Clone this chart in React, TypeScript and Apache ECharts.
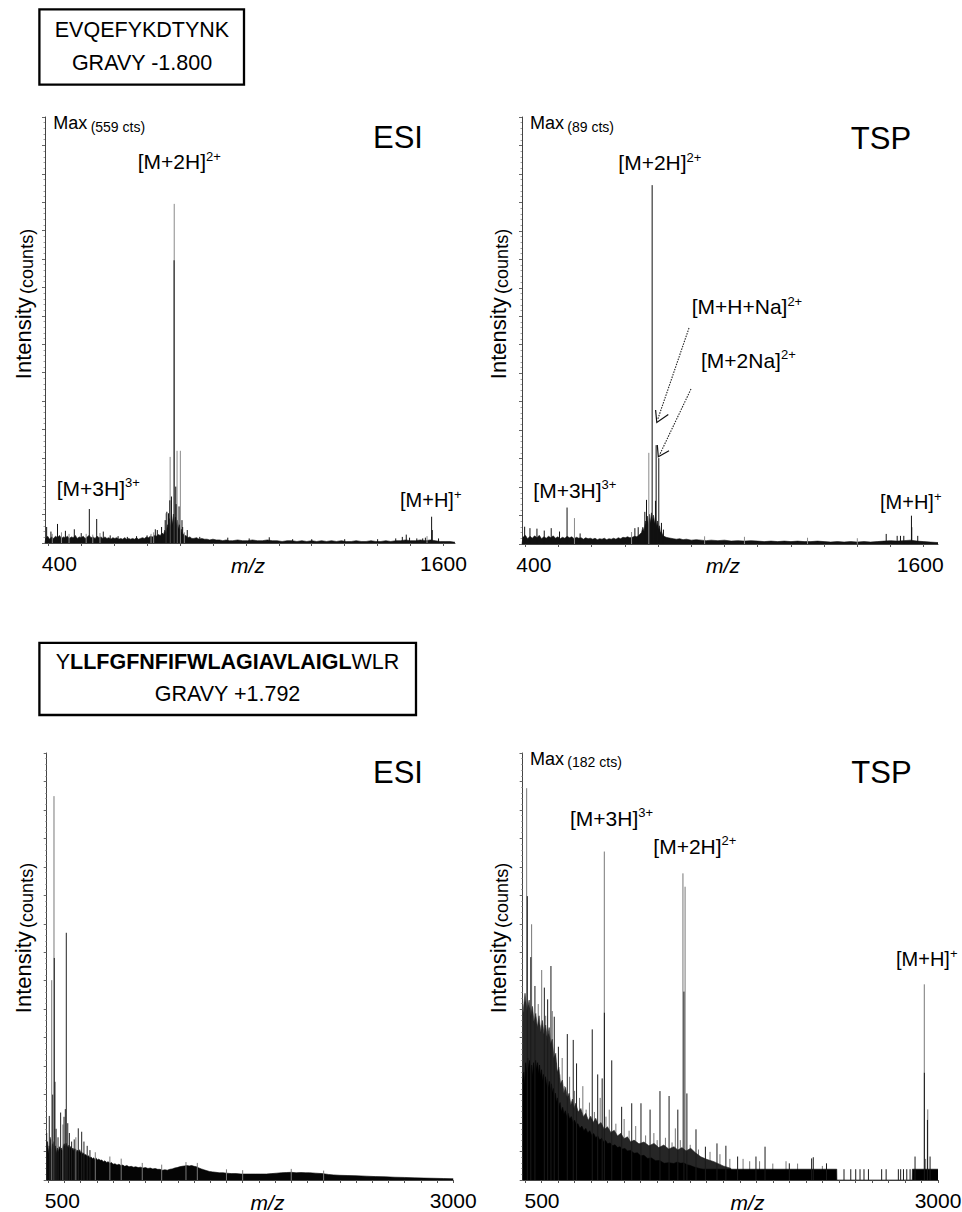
import React, { useEffect, useRef } from "react";
import * as echarts from "echarts";

const FONT = '"Liberation Sans", Arial, Helvetica, sans-serif';

// ---------------- DATA ----------------
const TOP_X_TICKS = [400, 500, 600, 700, 800, 900, 1000, 1100, 1200, 1300, 1400, 1500, 1600];
const TOP_X_LABELS = [400, 1600];
const BOTTOM_X_TICKS = [500, 600, 700, 800, 900, 1000, 1100, 1200, 1300, 1400, 1500, 1600, 1700, 1800, 1900, 2000, 2100, 2200, 2300, 2400, 2500, 2600, 2700, 2800, 2900, 3000];
const BOTTOM_X_LABELS = [500, 3000];

// Max counts of each panel (ESI bottom panel has no printed max: relative scale)
const PANEL_MAX = [559, 89, 100, 182];
const PANEL_TITLES = ["ESI", "TSP", "ESI", "TSP"];
const MAX_LABELS = ["(559 cts)", "(89 cts)", "", "(182 cts)"];

// Panel 1: EVQEFYKDTYNK, ESI  [m/z, counts]
const ESI_TOP_DARK = [
  [395, 21], [408, 15], [428, 25], [452, 16], [479, 18], [500, 13], [524.6, 44.6], [547, 31.5], [567, 15],
  [588, 10], [612, 9], [640, 8], [668, 9], [700, 10], [725, 18], [731, 17], [744, 21], [755, 30], [760, 41],
  [765, 39], [769, 56], [774, 61], [782, 371], [787, 74], [788, 51], [797, 48], [806, 30], [808, 21], [822, 17],
  [860, 8], [945, 7], [1010, 6], [1071, 7.5], [1142, 5], [1200, 5], [1300, 5], [1400, 5], [1455, 6], [1475, 8],
  [1487, 11], [1497, 7], [1519, 6], [1537, 6], [1545, 7], [1564, 34.5], [1566, 17], [1585, 6],
];
const ESI_TOP_GREY = [
  [412, 12], [440, 14], [463, 12], [515, 12], [535, 11], [557, 13], [712, 12], [720, 14], [757.5, 39],
  [770, 113], [782.4, 445], [791, 121], [801, 121], [813, 14], [1550, 9],
];
const ESI_TOP_NOISE = [
  [390, 0], [392, 6], [398, 9], [404, 5], [410, 8], [416, 6], [422, 9], [428, 7], [434, 10], [440, 6], [446, 8],
  [452, 7], [458, 9], [464, 6], [470, 8], [476, 7], [482, 10], [488, 6], [494, 8], [500, 7], [506, 9], [512, 6],
  [518, 8], [524, 10], [530, 7], [536, 8], [542, 6], [548, 9], [554, 7], [560, 8], [566, 6], [572, 8], [578, 6],
  [584, 7], [590, 5], [596, 7], [602, 6], [608, 7], [614, 5], [620, 6], [626, 5], [632, 7], [638, 5], [644, 6],
  [650, 5], [656, 6], [662, 5], [668, 7], [674, 5], [680, 6], [686, 7], [692, 6], [698, 8], [704, 7], [710, 9],
  [716, 8], [722, 10], [728, 9], [734, 11], [740, 10], [746, 13], [750, 11], [754, 17], [758, 13], [762, 24],
  [765, 16], [768, 32], [771, 20], [774, 36], [777, 24], [780, 38], [783, 26], [786, 34], [789, 22], [792, 30],
  [795, 18], [798, 24], [801, 15], [804, 18], [807, 11], [810, 12], [814, 9], [818, 10], [824, 7], [830, 8],
  [836, 6], [842, 6], [850, 7], [858, 5], [866, 6], [874, 5],
  [882, 5], [890, 4], [900, 5], [910, 4], [920, 4], [930, 3], [940, 4], [950, 3], [960, 3], [975, 4], [990, 3],
  [1005, 3], [1020, 4], [1035, 3], [1050, 3], [1065, 4], [1080, 3], [1095, 3], [1110, 2], [1125, 3], [1140, 3],
  [1155, 2], [1170, 3], [1185, 2], [1200, 3], [1215, 2], [1230, 3], [1245, 2], [1260, 3], [1275, 2], [1290, 3],
  [1305, 2], [1320, 2], [1335, 3], [1350, 2], [1365, 2], [1380, 3], [1395, 2], [1410, 2], [1425, 3], [1440, 2],
  [1455, 3], [1470, 3], [1485, 4], [1500, 3], [1515, 3], [1530, 4], [1545, 3], [1560, 4], [1575, 3], [1590, 2],
  [1605, 2], [1620, 2], [1635, 1],
];

// Panel 2: EVQEFYKDTYNK, TSP  [m/z, counts]
const TSP_TOP_DARK = [
  [398, 3.6], [414, 3.3], [435, 3.2], [457, 2.8], [478, 3.3], [503, 2.6], [525.7, 7.6], [565, 2.2], [730, 3.3],
  [740, 3.5], [760, 6.7], [765, 9.2], [782, 74.8], [792, 9], [794, 20.6], [802, 17.9], [810, 4.4], [816, 3],
  [1487, 2.1], [1520, 1.7], [1530, 1.7], [1540, 1.7], [1563, 5.9], [1564, 3.5], [1582, 1.7],
];
const TSP_TOP_GREY = [
  [548, 5.4], [772, 19], [720, 2.5], [940, 1.6], [1060, 1.5], [1250, 1.3], [1400, 1.2],
];
const TSP_TOP_NOISE = [
  [390, 0], [393, 1.4], [400, 1.8], [407, 1.1], [414, 1.6], [421, 1.2], [428, 1.7], [435, 1.3], [442, 1.8],
  [449, 1.1], [456, 1.5], [463, 1.2], [470, 1.6], [477, 1.3], [484, 1.7], [491, 1.2], [498, 1.5], [505, 1.1],
  [512, 1.4], [519, 1.2], [526, 1.6], [533, 1.3], [540, 1.5], [547, 1.1], [554, 1.4], [561, 1.2], [568, 1.3],
  [575, 1.0], [582, 1.3], [589, 1.1], [596, 1.2], [603, 1.0], [610, 1.2], [617, 0.9], [624, 1.1], [631, 1.0],
  [638, 1.2], [645, 0.9], [652, 1.1], [659, 1.0], [666, 1.2], [673, 1.0], [680, 1.3], [687, 1.1], [694, 1.4],
  [701, 1.3], [708, 1.5], [715, 1.3], [722, 1.4], [729, 1.6], [736, 1.5], [743, 1.9], [750, 2.4], [754, 3.5],
  [758, 2.6], [762, 4.8], [765, 3.2], [768, 5.8], [771, 3.8], [774, 6.2], [777, 4.4], [780, 6.5], [783, 4.6],
  [786, 6.0], [789, 4.2], [792, 5.6], [795, 3.6], [798, 4.8], [801, 3.0], [804, 3.8], [807, 2.4], [810, 2.6],
  [814, 1.8], [818, 1.6], [824, 1.4], [830, 1.3], [838, 1.2], [846, 1.1], [855, 1.0], [865, 1.1],
  [875, 0.9], [885, 1.0], [900, 0.8], [915, 0.9], [930, 0.8], [945, 0.7], [960, 0.8], [980, 0.7], [1000, 0.8],
  [1020, 0.6], [1040, 0.7], [1060, 0.6], [1080, 0.7], [1100, 0.6], [1120, 0.5], [1140, 0.6], [1160, 0.5],
  [1180, 0.6], [1200, 0.5], [1220, 0.6], [1240, 0.5], [1260, 0.5], [1280, 0.6], [1300, 0.5], [1320, 0.4],
  [1340, 0.5], [1360, 0.4], [1380, 0.5], [1400, 0.4], [1420, 0.5], [1440, 0.4], [1460, 0.5], [1480, 0.6],
  [1500, 0.7], [1520, 0.6], [1540, 0.7], [1560, 0.8], [1580, 0.6], [1600, 0.5], [1620, 0.4], [1643, 0.3],
];

// Panel 3: YLLFGFNFIFWLAGIAVLAIGLWLR, ESI  [m/z, relative]
const ESI_BOT_DARK = [
  [490, 11], [506, 15], [512, 10], [527, 20], [537, 52], [541, 23], [548, 12], [560, 10], [576, 15.8], [597, 14.8],
  [605, 16.6], [611, 57.9], [620, 13.3], [630, 11], [644, 9], [660, 9.5], [685, 12.1], [706, 11.3], [720, 9],
  [740, 8], [757, 7],
];
const ESI_BOT_GREY = [
  [521, 46.8], [535, 89.9], [590, 13], [670, 10], [790, 6.5], [880, 5.5], [950, 5], [1080, 4], [1200, 3.6],
  [1350, 4.2], [1420, 4], [1600, 2.5], [1700, 2.3], [2000, 2.6], [2200, 2.2],
];
const ESI_BOT_NOISE = [
  [490, 7.5], [495, 9], [500, 6.2], [505, 8], [510, 7], [515, 9.5], [520, 6.5], [525, 8.5], [530, 8], [535, 9],
  [540, 7], [545, 8], [550, 6.2], [556, 7.5], [562, 6.5], [568, 7.8], [574, 7], [580, 7.5], [586, 6.8], [592, 8],
  [598, 8.5], [604, 7.8], [610, 8.6], [616, 8], [622, 7.6], [628, 8.2], [634, 7.4], [640, 7.9], [646, 7.1],
  [652, 7.5], [658, 6.9], [664, 7.3], [670, 7.2], [676, 6.6], [682, 7], [688, 6.5], [694, 7.1], [700, 6.4],
  [706, 6.6], [712, 6.1], [718, 6.3], [725, 5.8], [732, 6], [740, 5.5], [748, 5.7], [756, 5.2], [764, 5.4],
  [772, 5], [780, 5.2], [788, 4.8], [796, 5.1], [804, 4.7], [812, 4.9], [820, 4.6], [830, 4.7], [840, 4.3],
  [850, 4.5], [860, 4.1], [870, 4.3], [880, 3.9], [890, 4.1], [900, 3.7], [912, 3.8], [924, 3.5], [936, 3.7],
  [948, 3.4], [960, 3.5], [972, 3.2], [985, 3.4], [998, 3.1], [1012, 3.2], [1026, 3], [1040, 3.1], [1055, 2.9],
  [1070, 3], [1085, 2.8], [1100, 2.9], [1115, 2.7], [1130, 2.8], [1145, 2.6], [1160, 2.7], [1175, 2.5],
  [1190, 2.5], [1205, 2.3], [1220, 2.4], [1235, 2.3], [1250, 2.5], [1265, 2.6], [1280, 2.8], [1295, 2.9],
  [1310, 3.1], [1325, 3.2], [1340, 3.3], [1355, 3.4], [1370, 3.3], [1385, 3.4], [1400, 3.2], [1415, 3.1],
  [1430, 2.8], [1445, 2.6], [1460, 2.4], [1476, 2.2], [1495, 2], [1515, 1.9], [1535, 1.8], [1555, 1.7],
  [1580, 1.7], [1600, 1.6], [1630, 1.5], [1660, 1.5], [1690, 1.4], [1720, 1.4], [1750, 1.4], [1780, 1.4],
  [1810, 1.4], [1846, 1.4], [1880, 1.5], [1910, 1.6], [1940, 1.7], [1970, 1.75], [2000, 1.8], [2030, 1.7],
  [2060, 1.75], [2090, 1.7], [2113, 1.7], [2150, 1.6], [2190, 1.5], [2230, 1.3], [2260, 1.2], [2300, 1.1],
  [2350, 1.05], [2400, 1], [2463, 0.9], [2520, 0.8], [2580, 0.75], [2640, 0.65], [2700, 0.6], [2760, 0.5],
  [2820, 0.45], [2880, 0.4], [2940, 0.35], [3000, 0.3],
];

// Panel 4: YLLFGFNFIFWLAGIAVLAIGLWLR, TSP  [m/z, counts]
const TSP_BOT_DARK = [
  [514, 121], [535, 95], [560, 82.7], [617, 82], [637, 77], [657, 91.2], [677, 69.6], [702, 56.8], [756, 62.2],
  [792, 59.7], [812, 49.7], [907, 64.2], [940, 45], [967, 43.3], [980.5, 71.3], [1025, 51], [1085, 31.2],
  [1146, 32.7], [1202, 32.7], [1257, 30], [1317, 37.9], [1372, 35.8], [1425, 30], [1462, 80.3], [1480, 36.9],
  [1535, 21.6], [1592, 14.2], [1662, 15.6], [1716, 14.6], [1787, 10], [1898, 10], [1953, 14.2], [2100, 7.1],
  [2235, 9.2], [2245, 9.7], [2325, 7.1], [2431, 4.6], [2472, 4.6], [2502, 4.6], [2528, 4.6], [2552, 4.6],
  [2579, 4.6], [2659, 4.6], [2686, 4.6], [2760, 4.6], [2774, 4.6], [2791, 4.6], [2811, 4.6], [2831, 4.6],
  [2861, 10], [2917.5, 45.7], [2936, 25.6], [2952, 10],
];
const TSP_BOT_GREY = [
  [510, 167], [540, 109], [601, 89.5], [980, 140], [1456, 130.7], [1469, 125], [2917, 83.4], [2938, 30.1],
  [2925, 9], [520, 62], [545, 70], [565, 60], [580, 75], [590, 66], [625, 70], [645, 60], [665, 72], [690, 50],
  [710, 45], [725, 52], [740, 40], [770, 44], [800, 38], [830, 35], [850, 40], [870, 30], [890, 33], [920, 29],
  [955, 35], [990, 27], [1010, 30], [1050, 24], [1100, 26], [1130, 21], [1170, 23], [1230, 19], [1280, 20],
  [1300, 17], [1350, 18], [1390, 16], [1410, 22], [1440, 17], [1500, 15], [1550, 13], [1620, 12], [1680, 11],
  [1740, 9], [1820, 9], [1860, 8], [1920, 8], [2000, 7], [2080, 8], [2150, 7], [2300, 6],
];
const TSP_BOT_GREY_AREA = [
  [486, 70], [500, 79.6], [512, 72], [525, 76.7], [535, 70], [545, 74], [555, 67], [565, 71], [575, 65],
  [585, 70], [595, 63], [605, 68], [615, 62], [625, 66], [635, 60], [646, 65], [655, 58], [665, 60], [675, 52],
  [686, 54], [695, 46], [705, 48], [715, 41], [726, 42.6], [736, 37], [746, 39.5], [756, 35], [767, 37],
  [777, 32], [787, 34.5], [797, 30.5], [807, 32.7], [822, 29], [838, 30.5], [853, 27], [868, 28.4], [883, 25.5],
  [898, 27.2], [913, 24.5], [928, 26.3], [944, 23.5], [960, 24.5], [980, 21.5], [999, 22.7], [1020, 20.2],
  [1040, 21.2], [1060, 18.8], [1080, 19.9], [1100, 17.6], [1120, 18.4], [1140, 16.2], [1160, 17], [1190, 15.4],
  [1220, 16.2], [1250, 14.6], [1281, 15.6], [1310, 13.8], [1340, 14.9], [1370, 13.2], [1402, 14.2],
  [1425, 12.8], [1450, 13.8], [1475, 12.4], [1503, 13.5], [1530, 11.7], [1564, 9.9], [1600, 8.8], [1644, 7.8],
  [1700, 6], [1745, 5], [1760, 0],
];
const TSP_BOT_DENSE = [
  [486, 42], [492, 46], [498, 40], [504, 50], [510, 45], [516, 52], [522, 47], [528, 51], [534, 45], [540, 49],
  [546, 44], [552, 50], [558, 46], [564, 51], [570, 47], [576, 50], [582, 45], [588, 49], [594, 44], [600, 47],
  [606, 42], [612, 45], [618, 41], [624, 44], [630, 40], [636, 43], [642, 39], [648, 42], [654, 38], [660, 41],
  [666, 37], [672, 39], [678, 35], [684, 37], [690, 33], [696, 35], [704, 31], [712, 33], [720, 29], [728, 31],
  [736, 28], [744, 29.5], [752, 27], [760, 28.5], [770, 26], [780, 27], [790, 24.5], [800, 25.5], [810, 23.5],
  [820, 24], [832, 22], [844, 23], [856, 21], [868, 22], [880, 20], [892, 21], [904, 19], [916, 19.8], [928, 18],
  [940, 18.8], [952, 17], [964, 17.8], [976, 16.2], [988, 16.8], [1000, 15.4], [1015, 15.8], [1030, 14.6],
  [1045, 15], [1060, 13.8], [1075, 14.2], [1090, 13.2], [1105, 13.4], [1120, 12.4], [1140, 12.6], [1160, 11.4],
  [1180, 11.6], [1200, 10.3], [1220, 10.5], [1241, 9.2], [1265, 9.4], [1290, 8.2], [1315, 8.3], [1342, 7.1],
  [1370, 7.4], [1400, 7], [1420, 7.6], [1443, 7.1], [1460, 7.3], [1480, 6.5], [1500, 6.2], [1520, 5.6],
  [1540, 5.2], [1560, 4.8], [1580, 4.6], [2387, 4.6], [2388, 0], [2844, 0], [2845, 4.6], [3000, 4.6],
];

// ---------------- LAYOUT (pixels) ----------------
const LAYOUT = [
  { left: 45, top: 117, width: 410, height: 426, xMin: 390, xMax: 1635, padFirst: 22, padLast: 0 },
  { left: 522, top: 117, width: 416, height: 427, xMin: 390, xMax: 1643, padFirst: 17, padLast: 7 },
  { left: 46.7, top: 753, width: 406.5, height: 427, xMin: 490, xMax: 3000, padFirst: 28, padLast: 0 },
  { left: 522.7, top: 753, width: 415.3, height: 427, xMin: 486, xMax: 3000, padFirst: 34, padLast: 0 },
];

function sticks(idx: number, data: number[][], color: string, width = 1, z = 4) {
  return {
    type: "custom",
    xAxisIndex: idx,
    yAxisIndex: idx,
    data,
    silent: true,
    z,
    renderItem: (_params: any, api: any) => {
      const top = api.coord([api.value(0), api.value(1)]);
      const base = api.coord([api.value(0), 0]);
      return {
        type: "line",
        shape: { x1: top[0], y1: base[1], x2: top[0], y2: top[1] },
        style: { stroke: color, lineWidth: width },
      };
    },
  };
}

function area(idx: number, data: number[][], color: string, z = 2) {
  return {
    type: "line",
    xAxisIndex: idx,
    yAxisIndex: idx,
    data,
    symbol: "none",
    showSymbol: false,
    silent: true,
    z,
    lineStyle: { color, width: 0.6 },
    areaStyle: { color, opacity: 1 },
  };
}

function text(x: number, y: number, t: string, rich: any, align = "left", rotation = 0) {
  return {
    type: "text",
    x,
    y,
    rotation,
    silent: true,
    z: 20,
    style: { text: t, rich, align, verticalAlign: "middle", fill: "#000", fontFamily: FONT },
  };
}

function ion(x: number, y: number, main: string, sup: string, size = 21) {
  return text(x, y, `{m|${main}}{s|${sup}}`, {
    m: { fontSize: size, fontFamily: FONT, lineHeight: 24, fill: "#000" },
    s: { fontSize: 13, fontFamily: FONT, lineHeight: 19.5, verticalAlign: "top", fill: "#000" },
  });
}

function intensityTitle(x: number, y: number) {
  return text(
    x,
    y,
    "{a|Intensity} {b|(counts)}",
    {
      a: { fontSize: 22, fontFamily: FONT, lineHeight: 26, fill: "#000" },
      b: { fontSize: 18, fontFamily: FONT, lineHeight: 23, verticalAlign: "bottom", fill: "#000" },
    },
    "center",
    Math.PI / 2
  );
}

function maxLabel(x: number, y: number, t: string) {
  return text(x, y, `{a|Max} {b|${t}}`, {
    a: { fontSize: 18, fontFamily: FONT, lineHeight: 21, fill: "#000" },
    b: { fontSize: 14, fontFamily: FONT, lineHeight: 18.5, verticalAlign: "bottom", fill: "#000" },
  });
}

function buildOption() {
  const ticks = [TOP_X_TICKS, TOP_X_TICKS, BOTTOM_X_TICKS, BOTTOM_X_TICKS];
  const labels = [TOP_X_LABELS, TOP_X_LABELS, BOTTOM_X_LABELS, BOTTOM_X_LABELS];

  const grid = LAYOUT.map((g) => ({
    left: g.left,
    top: g.top,
    width: g.width,
    height: g.height,
    containLabel: false,
    outerBoundsMode: "none",
  }));

  const xAxis = LAYOUT.map((g, i) => ({
    type: "value",
    gridIndex: i,
    min: g.xMin,
    max: g.xMax,
    axisLine: { show: true, lineStyle: { color: "#444", width: 1 } },
    axisTick: { show: true, customValues: ticks[i], length: 3, lineStyle: { color: "#555", width: 1 } },
    axisLabel: {
      show: true,
      customValues: labels[i],
      margin: 10,
      fontSize: 21,
      fontFamily: FONT,
      color: "#000",
      formatter: (v: number) => (v === labels[i][0] ? `{f|${v}}` : `{l|${v}}`),
      rich: {
        f: { fontSize: 21, fontFamily: FONT, color: "#000", padding: [0, 0, 0, g.padFirst] },
        l: { fontSize: 21, fontFamily: FONT, color: "#000", padding: [0, g.padLast, 0, 0] },
      },
    },
    splitLine: { show: false },
  }));

  const yAxis = LAYOUT.map((_g, i) => ({
    type: "value",
    gridIndex: i,
    min: 0,
    max: PANEL_MAX[i],
    interval: PANEL_MAX[i] / 15,
    axisLine: { show: true, lineStyle: { color: "#444", width: 1 } },
    axisTick: { show: true, length: 3, lineStyle: { color: "#666", width: 1 } },
    minorTick: { show: true, splitNumber: 5, length: 1.5, lineStyle: { color: "#888", width: 0.8 } },
    axisLabel: { show: false },
    splitLine: { show: false },
  }));

  const series: any[] = [
    area(0, ESI_TOP_NOISE, "#111"),
    sticks(0, ESI_TOP_GREY, "#8a8a8a"),
    sticks(0, ESI_TOP_DARK, "#111"),

    area(1, TSP_TOP_NOISE, "#111"),
    sticks(1, TSP_TOP_GREY, "#8a8a8a"),
    sticks(1, TSP_TOP_DARK, "#111"),

    area(2, ESI_BOT_NOISE, "#050505"),
    sticks(2, ESI_BOT_GREY, "#7a7a7a"),
    sticks(2, ESI_BOT_DARK, "#222"),

    sticks(3, TSP_BOT_GREY, "#777", 1, 0),
    area(3, TSP_BOT_GREY_AREA, "#262626", 1),
    area(3, TSP_BOT_DENSE, "#000", 3),
    sticks(3, TSP_BOT_DARK, "#1a1a1a"),
  ];

  const boxText = (x: number, y: number, t: string) =>
    text(x, y, t, {
      n: { fontSize: 21.5, fontFamily: FONT, lineHeight: 25, fill: "#000" },
      b: { fontSize: 21.5, fontFamily: FONT, fontWeight: "bold", lineHeight: 25, fill: "#000" },
    }, "center");

  const title = (x: number, y: number, t: string) =>
    text(x, y, `{t|${t}}`, { t: { fontSize: 31, fontFamily: FONT, lineHeight: 34, fill: "#000" } }, "center");

  const mz = (x: number, y: number) =>
    text(x, y, "{t|m/z}", { t: { fontSize: 21, fontFamily: FONT, fontStyle: "italic", lineHeight: 24, fill: "#000" } }, "center");

  const graphic: any[] = [
    // peptide boxes
    { type: "rect", silent: true, shape: { x: 39.4, y: 9.4, width: 204.6, height: 75.2 }, style: { fill: "none", stroke: "#000", lineWidth: 2.3 } },
    boxText(142, 29.5, "{n|EVQEFYKDTYNK}"),
    boxText(142, 62.8, "{n|GRAVY -1.800}"),
    { type: "rect", silent: true, shape: { x: 39.4, y: 642.8, width: 376.6, height: 72.2 }, style: { fill: "none", stroke: "#000", lineWidth: 2.3 } },
    boxText(227.5, 662, "{n|Y}{b|LLFGFNFIFWLAGIAVLAIGL}{n|WLR}"),
    boxText(227.5, 693.5, "{n|GRAVY +1.792}"),

    // panel titles
    title(398, 137.5, PANEL_TITLES[0]),
    title(881, 138, PANEL_TITLES[1]),
    title(398, 772, PANEL_TITLES[2]),
    title(881.5, 772, PANEL_TITLES[3]),

    // max labels
    maxLabel(53.3, 123, MAX_LABELS[0]),
    maxLabel(530, 123, MAX_LABELS[1]),
    maxLabel(530, 758.5, MAX_LABELS[3]),

    // y titles
    intensityTitle(23, 304),
    intensityTitle(498, 304),
    intensityTitle(23, 938),
    intensityTitle(498, 938),

    // x titles
    mz(248, 565),
    mz(723, 565),
    mz(267.5, 1202),
    mz(747.5, 1202),

    // ion annotations
    ion(137.7, 161.7, "[M+2H]", "2+"),
    ion(56.7, 488.3, "[M+3H]", "3+"),
    ion(400, 500, "[M+H]", "+", 20),
    ion(618.3, 162.7, "[M+2H]", "2+"),
    ion(691.7, 306.7, "[M+H+Na]", "2+"),
    ion(701, 360, "[M+2Na]", "2+"),
    ion(533.3, 490, "[M+3H]", "3+"),
    ion(880, 501.7, "[M+H]", "+", 20),
    ion(570, 818, "[M+3H]", "3+"),
    ion(653.3, 846, "[M+2H]", "2+"),
    ion(896, 959, "[M+H]", "+", 20),

    // arrows
    { type: "line", silent: true, z: 15, shape: { x1: 689, y1: 328, x2: 657.5, y2: 420 }, style: { stroke: "#222", lineWidth: 1.1, lineDash: [1.5, 1.2] } },
    { type: "polyline", silent: true, z: 15, shape: { points: [[655.6, 410], [656.8, 422.5], [668.3, 414.5]] }, style: { stroke: "#111", fill: "none", lineWidth: 1.2 } },
    { type: "line", silent: true, z: 15, shape: { x1: 691, y1: 389, x2: 659.5, y2: 455 }, style: { stroke: "#222", lineWidth: 1.1, lineDash: [1.5, 1.2] } },
    { type: "polyline", silent: true, z: 15, shape: { points: [[657.3, 445], [658.3, 456.8], [669, 450.7]] }, style: { stroke: "#111", fill: "none", lineWidth: 1.2 } },
  ];

  return {
    animation: false,
    backgroundColor: "#fff",
    grid,
    xAxis,
    yAxis,
    series,
    graphic,
  };
}

export default function App() {
  const ref = useRef<HTMLDivElement>(null);
  useEffect(() => {
    document.body.style.margin = "0";
    const chart = echarts.init(ref.current as HTMLDivElement, null, { renderer: "svg" });
    chart.setOption(buildOption() as any);
    return () => chart.dispose();
  }, []);
  return (
    <div
      ref={ref}
      style={{ position: "absolute", left: 0, top: 0, width: 962, height: 1212, background: "#fff" }}
    />
  );
}
